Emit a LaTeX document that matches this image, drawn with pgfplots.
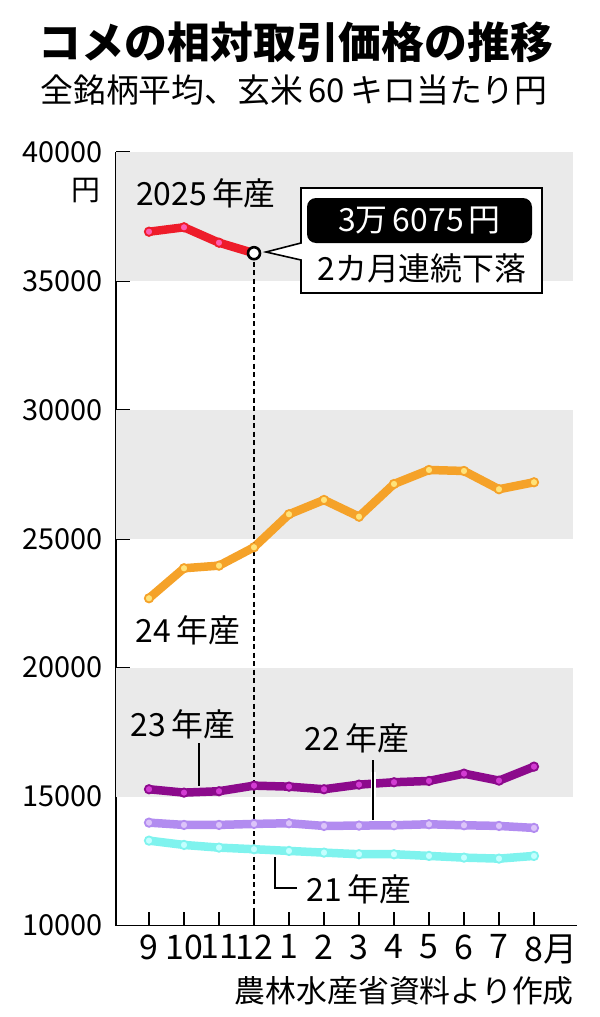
\documentclass[border=0pt]{standalone}
\usepackage{fontspec}
\setmainfont{Noto Sans CJK JP}
\usepackage{pgfplots}
\pgfplotsset{compat=1.18}
\definecolor{cR}{HTML}{EE1C2A}
\definecolor{cRf}{HTML}{FF5CB0}
\definecolor{cO}{HTML}{F5A229}
\definecolor{cOf}{HTML}{FFE37A}
\definecolor{cP}{HTML}{8C0A8C}
\definecolor{cPf}{HTML}{D23CD2}
\definecolor{cL}{HTML}{B28CF0}
\definecolor{cLf}{HTML}{DCC4FA}
\definecolor{cC}{HTML}{7FF3EE}
\definecolor{cCf}{HTML}{C4FFFF}
\definecolor{band}{HTML}{EAEAEA}
\newcommand{\gp}{\hspace{0.16em}}
\begin{document}
\begin{tikzpicture}
\useasboundingbox (0,0) rectangle (600bp,-1017bp);
\node[font=\bfseries\fontsize{43}{43}\selectfont, inner sep=0pt] at (296bp,-42bp) {コメの相対取引価格の推移};
\node[font=\fontsize{33}{33}\selectfont, inner sep=0pt] at (294bp,-90bp) {全銘柄平均、玄米\gp 60\gp キロ当たり円};
\begin{axis}[
  at={(116bp,-925.5bp)}, anchor=south west, scale only axis,
  width=461bp, height=773.5bp,
  xmin=-0.943, xmax=12.229, ymin=10000, ymax=40000,
  axis x line=bottom, axis y line=left,
  axis line style={-, line width=1.5bp, black},
  x axis line style={-}, y axis line style={-},
  tick align=inside, major tick length=14bp,
  tick style={line width=1.5bp, black},
  scaled y ticks=false,
  xtick={0,...,11},
  xticklabels={9,10,11,12,1,2,3,4,5,6,7,8\rlap{月}},
  ytick={10000,15000,20000,25000,30000,35000,40000},
  yticklabels={10000,15000,20000,25000,30000,35000,40000},
  xticklabel style={font=\fontsize{34}{34}\selectfont, inner sep=0pt, anchor=north, yshift=-9bp},
  yticklabel style={font=\fontsize{29}{29}\selectfont, inner sep=0pt, anchor=east, xshift=-13bp},
  clip=false,
]
% background bands
\addplot[fill=band, draw=none, forget plot] coordinates {(-0.943,35000) (12.114,35000) (12.114,40000) (-0.943,40000)} -- cycle;
\addplot[fill=band, draw=none, forget plot] coordinates {(-0.943,25000) (12.114,25000) (12.114,30000) (-0.943,30000)} -- cycle;
\addplot[fill=band, draw=none, forget plot] coordinates {(-0.943,15000) (12.114,15000) (12.114,20000) (-0.943,20000)} -- cycle;
% 21
\addplot[cC, line width=8.5bp, mark=*, mark size=4.2bp, mark options={fill=cCf, draw=cC, line width=1.8bp}] coordinates {
(0,13292) (1,13125) (2,13021) (3,12959) (4,12893) (5,12827) (6,12765) (7,12765) (8,12699) (9,12633) (10,12594) (11,12699)};
% 22
\addplot[cL, line width=8.5bp, mark=*, mark size=4.2bp, mark options={fill=cLf, draw=cL, line width=1.8bp}] coordinates {
(0,13990) (1,13901) (2,13901) (3,13940) (4,13966) (5,13862) (6,13875) (7,13888) (8,13927) (9,13888) (10,13862) (11,13785)};
% 23
\addplot[cP, line width=8.5bp, mark=*, mark size=4.2bp, mark options={fill=cPf, draw=cP, line width=1.8bp}] coordinates {
(0,15285) (1,15154) (2,15208) (3,15425) (4,15386) (5,15285) (6,15464) (7,15557) (8,15607) (9,15891) (10,15619) (11,16162)};
% 24
\addplot[cO, line width=8.5bp, mark=*, mark size=4.2bp, mark options={fill=cOf, draw=cO, line width=1.8bp}] coordinates {
(0,22692) (1,23856) (2,23957) (3,24670) (4,25950) (5,26505) (6,25857) (7,27125) (8,27668) (9,27629) (10,26920) (11,27191)};
% dashed guide
\addplot[black, line width=1.2bp, dash pattern=on 5bp off 3.5bp] coordinates {(3,36075) (3,10000)};
% 2025
\addplot[cR, line width=8.5bp, mark=*, mark size=4.2bp, mark options={fill=cRf, draw=cR, line width=1.8bp}] coordinates {
(0,36909) (1,37080) (2,36483) (3,36075)};
\addplot[only marks, mark=*, mark size=6bp, mark options={fill=white, draw=black, line width=2.6bp}] coordinates {(3,36075)};
\end{axis}
\begin{scope}[x=1bp, y=-1bp]
\node[font=\fontsize{29}{29}\selectfont, inner sep=0pt] at (86,191) {円};
\node[font=\fontsize{32}{32}\selectfont, inner sep=0pt] at (206,193) {2025\gp 年産};
\node[font=\fontsize{32}{32}\selectfont, inner sep=0pt] at (188,630) {24\gp 年産};
\node[font=\fontsize{32}{32}\selectfont, inner sep=0pt] at (183,724) {23\gp 年産};
\node[font=\fontsize{32}{32}\selectfont, inner sep=0pt] at (357,738) {22\gp 年産};
\node[font=\fontsize{32}{32}\selectfont, inner sep=0pt] at (359,889) {21\gp 年産};
% leaders
\draw[black, line width=1.5bp] (199,743) -- (199,786);
\draw[white, line width=5bp] (373,772) -- (373,800);
\draw[black, line width=1.5bp] (373,760) -- (373,820);
\draw[black, line width=1.5bp] (275,857) -- (275,888) -- (297,888);
% callout
\draw[black, fill=white, line width=1.6bp, line join=miter] (301,188) -- (542,188) -- (542,293) -- (301,293) -- (301,260) -- (266,252) -- (301,243) -- cycle;
\fill[black, rounded corners=9bp] (307,198) rectangle (532,243);
\node[white, font=\fontsize{32}{32}\selectfont, inner sep=0pt] at (419.5,221) {3万\gp 6075\gp 円};
\node[font=\fontsize{32}{32}\selectfont, inner sep=0pt] at (422,268) {2カ月連続下落};
\node[font=\fontsize{31}{31}\selectfont, inner sep=0pt, anchor=east] at (574,991) {農林水産省資料より作成};
\end{scope}
\end{tikzpicture}
\end{document}
